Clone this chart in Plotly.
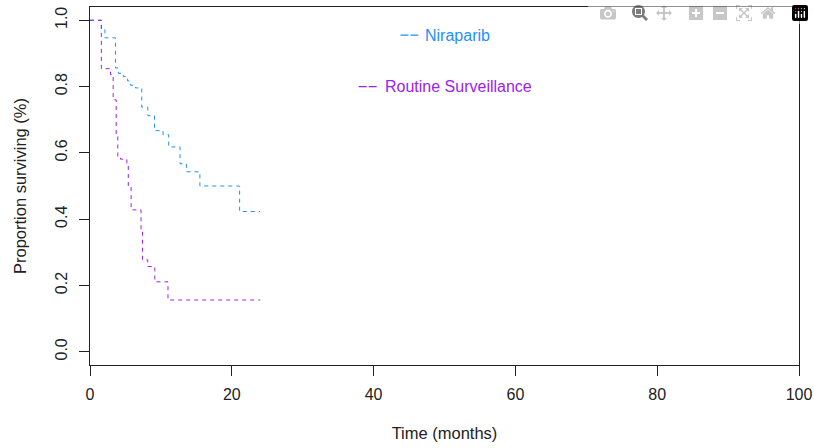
import plotly.graph_objects as go

# Kaplan-Meier step data (months, proportion surviving)
nira_time = [0, 1.6, 2.1, 3.6, 4.0, 4.7, 5.3, 5.7, 6.4, 7.3, 8.15, 9.1, 10.3, 11.1, 12.7, 13.6, 15.5, 21.1, 24.0]
nira_surv = [1.0, 0.973, 0.947, 0.856, 0.840, 0.830, 0.817, 0.804, 0.796, 0.738, 0.712, 0.667, 0.655, 0.618, 0.567, 0.543, 0.500, 0.423, 0.423]

rs_time = [0, 1.6, 2.9, 3.27, 3.7, 3.92, 4.3, 5.2, 5.4, 5.8, 7.2, 7.4, 8.15, 9.14, 11.0, 24.0]
rs_surv = [1.0, 0.854, 0.836, 0.76, 0.65, 0.589, 0.581, 0.567, 0.50, 0.428, 0.363, 0.277, 0.257, 0.211, 0.156, 0.156]

series_names = ["Niraparib", "Routine Surveillance"]
x_ticks = [0, 20, 40, 60, 80, 100]
y_ticks = [0.0, 0.2, 0.4, 0.6, 0.8, 1.0]

BLUE = "#1E90FF"
PURPLE = "#A020F0"
FONT = "Liberation Sans, Arial, sans-serif"

fig = go.Figure()
fig.add_trace(go.Scatter(x=nira_time, y=nira_surv, mode="lines", line_shape="hv",
                         line=dict(color=BLUE, width=1, dash="4px,4px"), name=series_names[0],
                         showlegend=False))
fig.add_trace(go.Scatter(x=rs_time, y=rs_surv, mode="lines", line_shape="hv",
                         line=dict(color=PURPLE, width=1, dash="4px,4px"), name=series_names[1],
                         showlegend=False))

# legend-like labels
legend_items = [
    (series_names[0], BLUE, 43.8, 46.3, 47.0, 0.955),
    (series_names[1], PURPLE, 37.9, 40.7, 41.3, 0.80),
]
for name, col, x0, x1, xt, yv in legend_items:
    fig.add_shape(type="line", x0=x0, x1=x1, y0=yv, y1=yv, xref="x", yref="y",
                  line=dict(color=col, width=1.2, dash="8px,2px"))
    fig.add_annotation(x=xt, y=yv, xref="x", yref="y", text=name, showarrow=False,
                       xanchor="left", yanchor="middle", font=dict(color=col, size=16, family=FONT))

axis_common = dict(showline=True, linecolor="#222", linewidth=1, mirror=True, ticks="outside",
                   ticklen=10, tickcolor="#222", showgrid=False, zeroline=False, automargin=False,
                   ticklabeloverflow="allow",
                   tickfont=dict(size=16, family=FONT, color="#222"))

fig.update_xaxes(range=[0, 100], tickvals=x_ticks, ticklabelstandoff=5,
                 title=dict(text="Time (months)", font=dict(size=16.5, family=FONT, color="#222"), standoff=25),
                 **axis_common)
fig.update_yaxes(range=[-0.04, 1.04], tickvals=y_ticks, tickformat=".1f", tickangle=-90,
                 ticklabelstandoff=6,
                 title=dict(text="Proportion surviving (%)", font=dict(size=16.5, family=FONT, color="#222"), standoff=21),
                 **axis_common)

fig.update_layout(width=814, height=448, margin=dict(l=90, r=15, t=7, b=83),
                  plot_bgcolor="white", paper_bgcolor="white", font=dict(family=FONT))

# remove the default page margin so the 814x448 figure fills the window exactly
fig.write_html("out.html",
               post_script="document.body.style.margin='0';document.body.style.overflow='hidden';")
